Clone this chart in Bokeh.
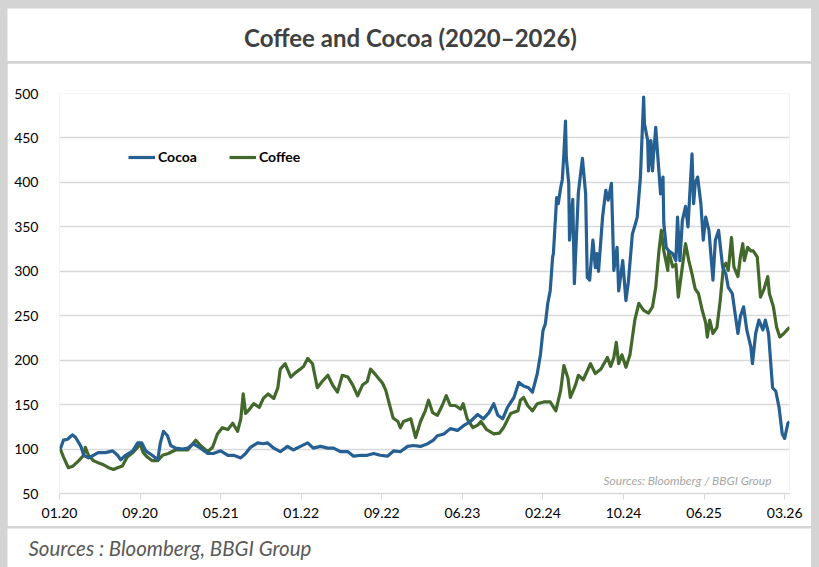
from bokeh.plotting import figure
from bokeh.layouts import column
from bokeh.models import (Range1d, FixedTicker, Label, Legend, LegendItem, ColumnDataSource)
from bokeh.core.properties import value
from bokeh.embed import file_html
from bokeh.resources import INLINE

# ---- data (x = position in tick intervals: 0 = 01.20 ... 9 = 03.26) ----
tick_labels = ["01.20", "09.20", "05.21", "01.22", "09.22",
               "06.23", "02.24", "10.24", "06.25", "03.26"]

cocoa_x = [0.01, 0.05, 0.10, 0.16, 0.20, 0.24, 0.27, 0.30, 0.36, 0.42, 0.48, 0.57, 0.66, 0.72, 0.76,
           0.82, 0.91, 0.97, 1.02, 1.07, 1.15, 1.22, 1.25, 1.29, 1.34, 1.38, 1.44, 1.53, 1.59, 1.66,
           1.75, 1.84, 1.91, 2.00, 2.09, 2.16, 2.25, 2.31, 2.37, 2.46, 2.53, 2.58, 2.66, 2.74, 2.83,
           2.90, 2.99, 3.08, 3.15, 3.24, 3.33, 3.40, 3.49, 3.58, 3.65, 3.74, 3.82, 3.90, 3.98, 4.07,
           4.15, 4.23, 4.32, 4.39, 4.48, 4.57, 4.64, 4.69, 4.77, 4.85, 4.94, 5.01, 5.10, 5.19, 5.26,
           5.33, 5.39, 5.44, 5.50, 5.56, 5.64, 5.70, 5.76, 5.82, 5.87, 5.93, 5.97, 6.00, 6.03, 6.06,
           6.09, 6.12, 6.13, 6.17, 6.19, 6.22, 6.24, 6.26, 6.28, 6.29, 6.32, 6.33, 6.37, 6.39, 6.44,
           6.49, 6.53, 6.55, 6.58, 6.62, 6.65, 6.67, 6.69, 6.74, 6.78, 6.81, 6.85, 6.88, 6.92, 6.94,
           6.99, 7.03, 7.06, 7.11, 7.15, 7.17, 7.21, 7.25, 7.26, 7.30, 7.31, 7.34, 7.36, 7.37, 7.40,
           7.42, 7.46, 7.49, 7.50, 7.53, 7.56, 7.61, 7.65, 7.67, 7.70, 7.73, 7.77, 7.80, 7.85, 7.87,
           7.89, 7.92, 7.96, 7.99, 8.02, 8.06, 8.11, 8.14, 8.18, 8.23, 8.27, 8.30, 8.35, 8.39, 8.42,
           8.45, 8.49, 8.53, 8.58, 8.60, 8.64, 8.68, 8.73, 8.76, 8.80, 8.85, 8.89, 8.93, 8.97, 9.00,
           9.04, 9.06]
cocoa_y = [100, 110, 111, 116, 113, 107, 102, 93, 90, 93, 96, 96, 98, 93, 88,
           93, 98, 107, 107, 98, 93, 88, 106, 120, 115, 104, 101, 100, 101, 106,
           101, 95, 95, 98, 93, 93, 90, 95, 102, 107, 106, 107, 101, 97, 103,
           99, 103, 107, 101, 103, 101, 101, 97, 97, 92, 93, 93, 95, 93, 92,
           98, 97, 103, 104, 103, 106, 110, 115, 117, 123, 121, 126, 131, 139, 134,
           141, 151, 138, 134, 147, 158, 175, 171, 169, 164, 185, 207, 233, 241, 264,
           278, 316, 320, 383, 376, 394, 403, 432, 469, 428, 399, 335, 381, 286, 389,
           427, 387, 293, 290, 335, 304, 320, 300, 361, 391, 380, 399, 301, 327, 278,
           312, 267, 288, 342, 354, 361, 406, 496, 466, 447, 413, 447, 413, 428, 462,
           436, 387, 406, 354, 327, 323, 320, 312, 361, 312, 357, 373, 350, 432, 376,
           399, 406, 376, 335, 361, 346, 290, 335, 346, 305, 297, 282, 275, 249, 230,
           249, 260, 234, 215, 196, 230, 245, 234, 245, 230, 169, 165, 147, 117, 112,
           129, 131]

coffee_x = [0.01, 0.05, 0.11, 0.17, 0.24, 0.30, 0.32, 0.36, 0.42, 0.47, 0.53, 0.61, 0.67, 0.72, 0.78,
            0.84, 0.91, 0.97, 1.00, 1.04, 1.09, 1.15, 1.22, 1.28, 1.35, 1.44, 1.53, 1.59, 1.69, 1.75,
            1.84, 1.90, 1.96, 2.02, 2.09, 2.15, 2.21, 2.25, 2.28, 2.31, 2.35, 2.41, 2.48, 2.53, 2.59,
            2.66, 2.71, 2.74, 2.80, 2.87, 2.93, 2.99, 3.03, 3.08, 3.14, 3.20, 3.26, 3.33, 3.39, 3.45,
            3.51, 3.58, 3.64, 3.70, 3.76, 3.82, 3.86, 3.92, 4.01, 4.05, 4.09, 4.14, 4.20, 4.23, 4.27,
            4.36, 4.42, 4.48, 4.54, 4.58, 4.63, 4.69, 4.75, 4.80, 4.85, 4.91, 4.98, 5.01, 5.06, 5.13,
            5.19, 5.23, 5.30, 5.39, 5.46, 5.51, 5.60, 5.69, 5.72, 5.76, 5.81, 5.87, 5.93, 6.01, 6.09,
            6.16, 6.22, 6.26, 6.31, 6.34, 6.40, 6.44, 6.50, 6.59, 6.65, 6.72, 6.80, 6.84, 6.88, 6.91,
            6.94, 6.98, 7.03, 7.08, 7.14, 7.19, 7.25, 7.31, 7.36, 7.40, 7.44, 7.47, 7.50, 7.55, 7.56,
            7.61, 7.65, 7.68, 7.73, 7.77, 7.81, 7.85, 7.89, 7.93, 7.98, 8.02, 8.04, 8.07, 8.11, 8.16,
            8.20, 8.24, 8.27, 8.30, 8.34, 8.37, 8.42, 8.45, 8.48, 8.50, 8.54, 8.58, 8.61, 8.66, 8.70,
            8.74, 8.79, 8.81, 8.86, 8.90, 8.94, 8.99, 9.03, 9.06]
coffee_y = [100, 91, 79, 81, 87, 93, 102, 93, 87, 85, 83, 79, 77, 79, 81,
            91, 96, 102, 106, 96, 91, 87, 87, 93, 95, 99, 99, 99, 110, 104,
            97, 102, 117, 124, 122, 129, 120, 134, 162, 140, 144, 151, 147, 157, 162,
            157, 169, 190, 196, 181, 186, 190, 193, 202, 196, 169, 176, 183, 172, 164,
            183, 181, 172, 160, 172, 176, 190, 184, 174, 166, 152, 135, 131, 124, 131,
            134, 113, 131, 143, 155, 141, 138, 149, 160, 149, 149, 145, 151, 134, 124,
            127, 131, 122, 117, 118, 124, 140, 143, 155, 158, 149, 143, 151, 153, 153,
            143, 166, 194, 180, 158, 171, 183, 178, 196, 185, 190, 203, 193, 203, 220,
            196, 206, 192, 206, 245, 264, 256, 253, 260, 282, 323, 346, 323, 301, 323,
            305, 308, 271, 305, 331, 312, 297, 280, 275, 255, 242, 226, 245, 230, 237,
            267, 305, 309, 301, 338, 305, 294, 316, 331, 312, 327, 323, 323, 316, 271,
            279, 294, 275, 260, 237, 226, 230, 234, 237]

title_text = "Coffee and Cocoa (2020\u20132026)"
inner_source = "Sources: Bloomberg / BBGI Group"
outer_source = "Sources : Bloomberg, BBGI Group"

FONT = "Lato"
GRAY = "#d4d4d4"


def text_panel(h, txt, xpos, ypos, align, size, style, color):
    f = figure(width=804, height=h, output_backend="svg", toolbar_location=None,
               x_range=Range1d(0, 804), y_range=Range1d(0, h),
               x_axis_location=None, y_axis_location=None,
               min_border=0, outline_line_color=None, frame_align=False,
               background_fill_color="white", border_fill_color="white")
    f.grid.visible = False
    f.text(x=[xpos], y=[ypos], text=[txt], text_align=align, text_baseline="alphabetic",
           text_font=value(FONT), text_font_size=size, text_font_style=style,
           text_color=color)
    return f


title_fig = text_panel(53, title_text, 403, 24, "center", "24px", "bold", "#404040")
source_fig = text_panel(39, outer_source, 21, 20, "left", "20.5px", "italic", "#595959")

# ---- main chart ----
p = figure(width=804, height=463, output_backend="svg", toolbar_location=None,
           x_range=Range1d(0, 9.06), y_range=Range1d(50, 500),
           min_border_left=52, min_border_right=22, min_border_top=30, min_border_bottom=33,
           background_fill_color="white", border_fill_color="white", outline_line_color=None)

p.xgrid.grid_line_color = None
p.ygrid.grid_line_color = "#d9d9d9"
p.ygrid.grid_line_width = 1.5
p.yaxis.ticker = FixedTicker(ticks=list(range(50, 501, 50)))
p.yaxis.axis_line_color = None
p.yaxis.major_tick_line_color = None
p.yaxis.minor_tick_line_color = None
p.yaxis.major_label_standoff = 15
p.yaxis.major_label_text_font = FONT
p.yaxis.major_label_text_font_size = "14px"
p.yaxis.major_label_text_color = "#000000"

p.xaxis.ticker = FixedTicker(ticks=list(range(len(tick_labels))))
p.xaxis.major_label_overrides = {i: t for i, t in enumerate(tick_labels)}
p.xaxis.axis_line_color = "#d9d9d9"
p.xaxis.axis_line_width = 1.5
p.xaxis.major_tick_line_color = "#d9d9d9"
p.xaxis.major_tick_out = 6
p.xaxis.major_tick_in = 0
p.xaxis.minor_tick_line_color = None
p.xaxis.major_label_standoff = 8
p.xaxis.major_label_text_font = FONT
p.xaxis.major_label_text_font_size = "14px"
p.xaxis.major_label_text_color = "#000000"

src_cocoa = ColumnDataSource(dict(x=cocoa_x, y=cocoa_y))
src_coffee = ColumnDataSource(dict(x=coffee_x, y=coffee_y))
r_coffee = p.line("x", "y", source=src_coffee, line_color="#43682b", line_width=3.2,
                  line_join="round")
r_cocoa = p.line("x", "y", source=src_cocoa, line_color="#265f91", line_width=3.2,
                 line_join="round")

legend = Legend(items=[LegendItem(label="Cocoa", renderers=[r_cocoa]),
                       LegendItem(label="Coffee", renderers=[r_coffee])],
                orientation="horizontal", location=(69, 328),
                border_line_color=None, background_fill_alpha=0,
                label_text_font=FONT, label_text_font_style="bold",
                label_text_font_size="14px", label_text_color="#000000",
                glyph_width=27, glyph_height=16, label_height=16,
                label_standoff=3, spacing=32, padding=0, margin=0)
p.add_layout(legend)

p.add_layout(Label(x=712, y=13, x_units="screen", y_units="screen",
                   text=inner_source, text_align="right",
                   text_baseline="middle", text_font=FONT, text_font_style="italic",
                   text_font_size="12px", text_color="#a6a6a6"))

layout = column(title_fig, p, source_fig, spacing=2,
                styles={"background-color": GRAY, "padding": "8px 8px 0px 7px"})

open("out.html", "w").write(file_html(layout, INLINE))
